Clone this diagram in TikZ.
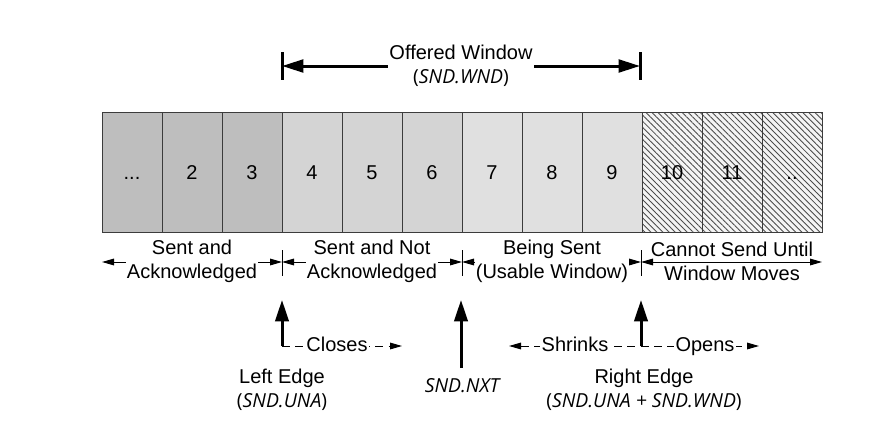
\documentclass[tikz,border=0pt]{standalone}
\usepackage{fontspec}
\setmainfont{Liberation Sans}
\newfontfamily\sndfont{Open Sans}
\usetikzlibrary{arrows.meta,patterns.meta}

\definecolor{ackgray}{HTML}{BEBEBE}
\definecolor{unackgray}{HTML}{D4D4D4}
\definecolor{usegray}{HTML}{E0E0E0}
\definecolor{blockgray}{HTML}{F4F4F4}
\definecolor{cellline}{HTML}{3C3C3C}
\newcommand{\snd}[1]{{\sndfont\fontsize{14.5}{18}\selectfont\itshape #1}}
\newcommand{\sndpar}[1]{{\sndfont\fontsize{14.5}{18}\selectfont(\textit{#1})}}
\newcommand{\moredots}{...}
\newcommand{\fewdots}{..}

\tikzset{
  every node/.style={font=\fontsize{15}{18}\selectfont},
  cell/.style={draw=cellline, line width=0.75pt, minimum width=45pt, minimum height=90pt, inner sep=0pt, text height=10.7pt, text depth=0pt},
  acked/.style={fill=ackgray},
  unacked/.style={fill=unackgray},
  usable/.style={fill=usegray},
  blocked/.style={preaction={fill=blockgray}, pattern={Lines[angle=-45,distance=3.2pt,line width=0.65pt]}, pattern color=black!70},
  divider/.style={line width=0.75pt},
  dimline/.style={line width=0.75pt, {Triangle[length=9pt,width=5pt]}-{Triangle[length=9pt,width=5pt]}},
  seglabel/.style={fill=white, inner sep=1pt, align=center},
  movelabel/.style={fill=white, inner sep=1pt, text height=11pt, text depth=3pt},
  window/.style={line width=2.25pt, {Triangle[length=16pt,width=9.5pt]}-{Triangle[length=16pt,width=9.5pt]}},
  edgearrow/.style={line width=2.25pt, -{Triangle[length=16pt,width=10pt]}},
  moves/.style={line width=0.75pt, dash pattern=on 6pt off 4pt},
}

\begin{document}
\begin{tikzpicture}[x=0.75pt, y=-0.75pt]
\useasboundingbox (0,0) rectangle (896,432);

% segments
\foreach \i/\txt/\kind in {1/\moredots/acked, 2/2/acked, 3/3/acked, 4/4/unacked, 5/5/unacked, 6/6/unacked,
    7/7/usable, 8/8/usable, 9/9/usable, 10/10/blocked, 11/11/blocked, 12/\fewdots/blocked}
  \node [cell, \kind] (c\i) at ({72+60*\i},172) {\txt};

% offered window
\coordinate (ow-l) at (282,66);
\coordinate (ow-r) at (640,66);
\draw [window] (ow-l) -- (ow-r);
\draw [line width=2.25pt] ([yshift=10.5pt]ow-l) -- ([yshift=-10.5pt]ow-l);
\draw [line width=2.25pt] ([yshift=10.5pt]ow-r) -- ([yshift=-10.5pt]ow-r);
\node [seglabel] (ow) at (461,66) {Offered Window\\\sndpar{SND.WND}};

% categories
\coordinate (d0) at (102,262);
\coordinate (d1) at (282,262);
\coordinate (d2) at (462,262);
\coordinate (d3) at (641,262);
\coordinate (d4) at (822,262);
\foreach \d in {d1,d2,d3}
  \draw [divider] ([yshift=9pt]\d) -- ([yshift=-10.5pt]\d);
\draw [dimline] (d0) -- (d1);
\draw [dimline] (d1) -- (d2);
\draw [dimline] (d2) -- (d3);
\draw [dimline] (d3) -- (d4);
\node [seglabel] (s1) at (192,261) {Sent and\\Acknowledged};
\node [seglabel] (s2) at (372,261) {Sent and Not\\Acknowledged};
\node [seglabel] (s3) at (552,261) {Being Sent\\(Usable Window)};
\node [align=center] (s4) at (732,261) {Cannot Send Until\\Window Moves};

% left edge
\coordinate (le-base) at (282,346);
\coordinate (le-tip) at (282,300);
\coordinate (cl-end) at (402,346);
\draw [moves, -{Triangle[length=9pt,width=5pt]}] (le-base) -- (cl-end);
\draw [edgearrow] (le-base) -- (le-tip);
\node [movelabel] (closes) at (337,346) {Closes};
\node [align=center] (le) at (282,390) {Left Edge\\\sndpar{SND.UNA}};

% next to send
\coordinate (nx-base) at (461,368);
\coordinate (nx-tip) at (461,300);
\draw [edgearrow] (nx-base) -- (nx-tip);
\node (nx) at (462,386) {\snd{SND.NXT}};

% right edge
\coordinate (re-base) at (641,346);
\coordinate (re-tip) at (641,300);
\coordinate (sh-end) at (509,346);
\coordinate (op-end) at (759,346);
\draw [moves, {Triangle[length=9pt,width=5pt]}-{Triangle[length=9pt,width=5pt]}] (sh-end) -- (op-end);
\draw [edgearrow] (re-base) -- (re-tip);
\node [movelabel] (shrinks) at (575,346) {Shrinks};
\node [movelabel] (opens) at (705,346) {Opens};
\node [align=center] (re) at (644,390) {Right Edge\\\sndpar{SND.UNA + SND.WND}};
\end{tikzpicture}
\end{document}
